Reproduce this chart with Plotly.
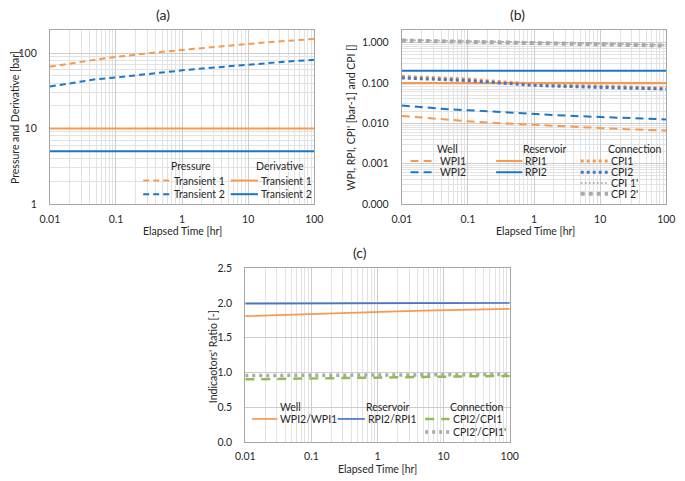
import plotly.graph_objects as go

# ---------------- data ----------------
t = [0.01, 0.02, 0.05, 0.1, 0.2, 0.5, 1, 2, 5, 10, 20, 50, 100]

# (a) pressure and derivative [bar]
p_tr1 = [66, 73, 82, 89, 96, 104, 110, 117, 126, 132, 139, 148, 154]
p_tr2 = [36, 40, 45, 47.5, 51, 55, 59, 62.5, 67, 70.5, 74, 78.5, 81.5]
d_tr1 = [10, 10, 10, 10, 10, 10, 10, 10, 10, 10, 10, 10, 10]
d_tr2 = [5, 5, 5, 5, 5, 5, 5, 5, 5, 5, 5, 5, 5]

# (b) indicators
wpi1 = [0.0152, 0.0137, 0.0122, 0.0112, 0.0104, 0.0096, 0.0091, 0.0085, 0.0079, 0.0076, 0.0072, 0.0068, 0.0066]
wpi2 = [0.0275, 0.025, 0.0222, 0.021, 0.0196, 0.0182, 0.017, 0.016, 0.0149, 0.0142, 0.0135, 0.0128, 0.0124]
rpi1 = [0.1, 0.1, 0.1, 0.1, 0.1, 0.1, 0.1, 0.1, 0.1, 0.1, 0.1, 0.1, 0.1]
rpi2 = [0.2, 0.2, 0.2, 0.2, 0.2, 0.2, 0.2, 0.2, 0.2, 0.2, 0.2, 0.2, 0.2]
cpi1 = [0.145, 0.140, 0.131, 0.124, 0.113, 0.100, 0.093, 0.089, 0.085, 0.082, 0.079, 0.076, 0.0745]
cpi2 = [0.132, 0.128, 0.120, 0.114, 0.104, 0.093, 0.0867, 0.0833, 0.080, 0.0775, 0.075, 0.0724, 0.070]
cpi1p = [1.16, 1.14, 1.11, 1.09, 1.08, 1.06, 1.04, 1.0, 0.97, 0.95, 0.92, 0.89, 0.86]
cpi2p = [1.12, 1.10, 1.07, 1.05, 1.04, 1.02, 1.0, 0.97, 0.94, 0.92, 0.89, 0.86, 0.84]

# (c) ratios
r_wpi = [1.81, 1.82, 1.835, 1.845, 1.855, 1.865, 1.872, 1.88, 1.89, 1.895, 1.90, 1.91, 1.915]
r_rpi = [1.99, 1.992, 1.994, 1.995, 1.996, 1.997, 1.998, 1.998, 1.999, 1.999, 2.0, 2.0, 2.0]
r_cpi = [0.90, 0.905, 0.91, 0.913, 0.917, 0.922, 0.926, 0.93, 0.935, 0.939, 0.942, 0.946, 0.95]
r_cpip = [0.955, 0.957, 0.959, 0.96, 0.961, 0.963, 0.964, 0.965, 0.966, 0.967, 0.968, 0.969, 0.97]

x_major = [0.01, 0.1, 1, 10, 100]
x_ticktext = ["0.01", "0.1", "1", "10", "100"]
ya_major = [1, 10, 100]
ya_ticktext = ["1", "10", "100"]
yb_major = [0.0001, 0.001, 0.01, 0.1, 1]
yb_ticktext = ["0.000", "0.001", "0.010", "0.100", "1.000"]

# ---------------- style ----------------
W, H = 685, 481
FONT = "Lato"
TXT = "#262626"
ORANGE = "#F59A50"
BLUE = "#1C76C6"
BLUE_C = "#4577C8"
GRAY = "#A9A9A9"
GREEN = "#8CBF4C"
GRID_MAJ = "#CCCCCC"
GRID_MIN = "#E2E2E2"
FRAME = "#A6A6A6"


def minors(lo, hi):
    out = []
    e = lo
    while e < hi:
        for k in range(2, 10):
            out.append(k * 10 ** e)
        e += 1
    return out


def px(x):
    return x / W


def py(y):
    return 1 - y / H


fig = go.Figure()

# (a)
fig.add_trace(go.Scatter(x=t, y=p_tr1, mode="lines", line=dict(color=ORANGE, width=2, dash="6px,4px"),
                         xaxis="x", yaxis="y", name="Pressure Transient 1"))
fig.add_trace(go.Scatter(x=t, y=p_tr2, mode="lines", line=dict(color=BLUE, width=2, dash="6px,4px"),
                         xaxis="x", yaxis="y", name="Pressure Transient 2"))
fig.add_trace(go.Scatter(x=t, y=d_tr1, mode="lines", line=dict(color=ORANGE, width=2),
                         xaxis="x", yaxis="y", name="Derivative Transient 1"))
fig.add_trace(go.Scatter(x=t, y=d_tr2, mode="lines", line=dict(color=BLUE, width=2),
                         xaxis="x", yaxis="y", name="Derivative Transient 2"))

# (b)
fig.add_trace(go.Scatter(x=t, y=wpi1, mode="lines", line=dict(color=ORANGE, width=2, dash="8px,5px"),
                         xaxis="x2", yaxis="y2", name="WPI1"))
fig.add_trace(go.Scatter(x=t, y=wpi2, mode="lines", line=dict(color=BLUE, width=2, dash="8px,5px"),
                         xaxis="x2", yaxis="y2", name="WPI2"))
fig.add_trace(go.Scatter(x=t, y=rpi1, mode="lines", line=dict(color=ORANGE, width=2),
                         xaxis="x2", yaxis="y2", name="RPI1"))
fig.add_trace(go.Scatter(x=t, y=rpi2, mode="lines", line=dict(color=BLUE, width=2),
                         xaxis="x2", yaxis="y2", name="RPI2"))
fig.add_trace(go.Scatter(x=t, y=cpi1, mode="lines", line=dict(color=ORANGE, width=3, dash="3px,3px"),
                         xaxis="x2", yaxis="y2", name="CPI1"))
fig.add_trace(go.Scatter(x=t, y=cpi2, mode="lines", line=dict(color=BLUE_C, width=3, dash="3px,3px"),
                         xaxis="x2", yaxis="y2", name="CPI2"))
fig.add_trace(go.Scatter(x=t, y=cpi2p, mode="lines", line=dict(color=GRAY, width=4, dash="4px,4px"),
                         xaxis="x2", yaxis="y2", name="CPI 2'"))
fig.add_trace(go.Scatter(x=t, y=cpi1p, mode="lines", line=dict(color=GRAY, width=1.5, dash="2px,2px"),
                         xaxis="x2", yaxis="y2", name="CPI 1'"))

# (c)
fig.add_trace(go.Scatter(x=t, y=r_wpi, mode="lines", line=dict(color=ORANGE, width=1.7),
                         xaxis="x3", yaxis="y3", name="WPI2/WPI1"))
fig.add_trace(go.Scatter(x=t, y=r_rpi, mode="lines", line=dict(color=BLUE_C, width=1.7),
                         xaxis="x3", yaxis="y3", name="RPI2/RPI1"))
fig.add_trace(go.Scatter(x=t, y=r_cpip, mode="lines", line=dict(color=GRAY, width=3.5, dash="3px,4px"),
                         xaxis="x3", yaxis="y3", name="CPI2'/CPI1'"))
fig.add_trace(go.Scatter(x=t, y=r_cpi, mode="lines", line=dict(color=GREEN, width=2.5, dash="9px,7px"),
                         xaxis="x3", yaxis="y3", name="CPI2/CPI1"))

tickfont = dict(family=FONT, size=10.5, color=TXT)


def xaxis_dict(x0, x1, anchor):
    return dict(domain=[px(x0), px(x1)], type="log", range=[-2, 2], anchor=anchor,
                tickmode="array", tickvals=x_major, ticktext=x_ticktext,
                showgrid=True, gridcolor=GRID_MAJ, gridwidth=1,
                minor=dict(tickmode="array", tickvals=minors(-2, 2), showgrid=True,
                           gridcolor=GRID_MIN, gridwidth=1, ticks=""),
                showline=True, mirror=True, linecolor=FRAME, linewidth=1,
                ticks="", tickfont=tickfont, ticklabelstandoff=5, zeroline=False)


YSTAND = 10

layout = dict(
    width=W, height=H, margin=dict(l=0, r=0, t=0, b=0),
    paper_bgcolor="white", plot_bgcolor="white", showlegend=False,
    font=dict(family=FONT, color=TXT),
    xaxis=xaxis_dict(41, 313, "y"),
    xaxis2=xaxis_dict(403, 675, "y2"),
    xaxis3=xaxis_dict(242, 514, "y3"),
    yaxis=dict(domain=[py(203), py(25)], type="log", range=[0, 2.30103], anchor="x",
               tickmode="array", tickvals=ya_major, ticktext=ya_ticktext,
               showgrid=True, gridcolor=GRID_MAJ,
               minor=dict(tickmode="array", tickvals=minors(0, 3), showgrid=True,
                          gridcolor=GRID_MIN, ticks=""),
               showline=True, mirror=True, linecolor=FRAME, ticks="",
               tickfont=tickfont, ticklabelstandoff=YSTAND, zeroline=False),
    yaxis2=dict(domain=[py(203), py(25)], type="log", range=[-4, 0.30103], anchor="x2",
                tickmode="array", tickvals=yb_major, ticktext=yb_ticktext,
                showgrid=True, gridcolor=GRID_MAJ,
                minor=dict(tickmode="array", tickvals=minors(-4, 1), showgrid=True,
                           gridcolor=GRID_MIN, ticks=""),
                showline=True, mirror=True, linecolor=FRAME, ticks="",
                tickfont=tickfont, ticklabelstandoff=YSTAND, zeroline=False),
    yaxis3=dict(domain=[py(447), py(269)], range=[0, 2.5], anchor="x3", dtick=0.5,
                tickformat=".1f", showgrid=True, gridcolor=GRID_MAJ,
                showline=True, mirror=True, linecolor=FRAME, ticks="",
                tickfont=tickfont, ticklabelstandoff=YSTAND, zeroline=False),
)
fig.update_layout(**layout)

shapes = []
annotations = []


def text(s, x, y, size=10.5, xanchor="center", angle=0):
    annotations.append(dict(text=s, x=px(x), y=py(y), xref="paper", yref="paper",
                            xanchor=xanchor, yanchor="middle", showarrow=False,
                            textangle=angle, font=dict(family=FONT, size=size, color=TXT)))


def box(x0, y0, x1, y1):
    shapes.append(dict(type="rect", xref="paper", yref="paper", x0=px(x0), x1=px(x1),
                       y0=py(y1), y1=py(y0), fillcolor="white", line=dict(width=0),
                       layer="between"))


def sample(x0, x1, y, color, width, dash="solid"):
    shapes.append(dict(type="line", xref="paper", yref="paper", x0=px(x0), x1=px(x1),
                       y0=py(y), y1=py(y), line=dict(color=color, width=width, dash=dash),
                       layer="above"))


# titles
text("(a)", 157, 9, size=14)
text("(b)", 522, 9, size=14)
text("(c)", 360, 253, size=14)

# axis titles
text("Elapsed Time [hr]", 177, 231)
text("Elapsed Time [hr]", 540, 231)
text("Elapsed Time [hr]", 378, 475)
text("Pressure and Derivative [bar]", 5, 114, angle=-90)
text("WPI, RPI, CPI' [bar-1] and CPI []", 351, 114, angle=-90)
text("Indicaotors' Ratio [-]", 209, 360, angle=-90)

# legend (a)
box(131, 157, 312, 202)
text("Pressure", 186, 164.5)
text("Derivative", 278, 164.5)
sample(137, 166, 179, ORANGE, 2, "6px,4px")
text("Transient 1", 167, 179, xanchor="left")
sample(137, 166, 193, BLUE, 2, "6px,4px")
text("Transient 2", 167, 193, xanchor="left")
sample(227, 255, 179, ORANGE, 2)
text("Transient 1", 256, 179, xanchor="left")
sample(227, 255, 193, BLUE, 2)
text("Transient 2", 256, 193, xanchor="left")

# legend (b)
box(404, 140, 674, 202)
text("Well", 450, 146.5)
text("Reservoir", 550, 146.5)
text("Connection", 643, 146.5)
sample(412, 439, 159, ORANGE, 2, "8px,5px")
text("WPI1", 440, 159, xanchor="left")
sample(412, 439, 170.5, BLUE, 2, "8px,5px")
text("WPI2", 440, 170.5, xanchor="left")
sample(500, 527, 159, ORANGE, 2)
text("RPI1", 528, 159, xanchor="left")
sample(500, 527, 170.5, BLUE, 2)
text("RPI2", 528, 170.5, xanchor="left")
sample(587, 615, 159, ORANGE, 3, "3px,3px")
text("CPI1", 616, 159, xanchor="left")
sample(587, 615, 170.5, BLUE_C, 3, "3px,3px")
text("CPI2", 616, 170.5, xanchor="left")
sample(587, 615, 181.5, GRAY, 1.5, "2px,2px")
text("CPI 1'", 616, 181.5, xanchor="left")
sample(587, 615, 192.5, GRAY, 4, "4px,4px")
text("CPI 2'", 616, 192.5, xanchor="left")

# legend (c)
box(243, 401, 513, 446)
text("Well", 288, 411)
text("Reservoir", 388, 411)
text("Connection", 480, 411)
sample(249, 275, 423.5, ORANGE, 1.7)
text("WPI2/WPI1", 276, 423.5, xanchor="left")
sample(337, 365, 423.5, BLUE_C, 1.7)
text("RPI2/RPI1", 366, 423.5, xanchor="left")
sample(427, 452, 423.5, GREEN, 2.5, "9px,7px")
text("CPI2/CPI1", 454, 423.5, xanchor="left")
sample(427, 452, 437, GRAY, 3.5, "3px,4px")
text("CPI2'/CPI1'", 454, 437, xanchor="left")

fig.update_layout(shapes=shapes, annotations=annotations)

fig.write_html(
    "out.html",
    config={"displayModeBar": False},
    post_script="document.body.style.margin='0';document.body.style.overflow='hidden';",
)
